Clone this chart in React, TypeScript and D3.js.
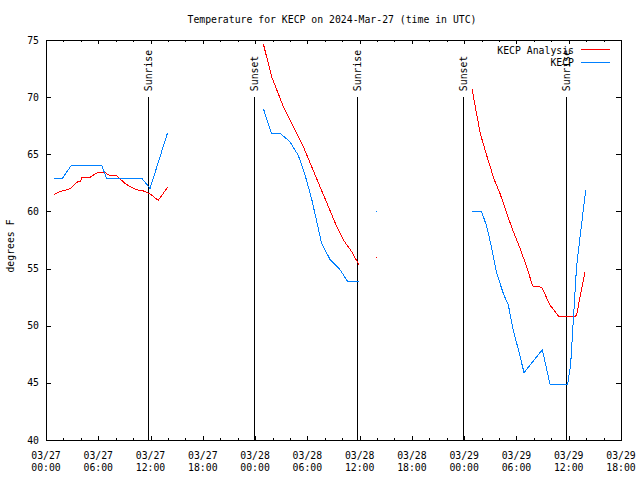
import React from "react";
import * as d3 from "d3";

const TITLE = "Temperature for KECP on 2024-Mar-27 (time in UTC)";
const Y_LABEL = "degrees F";

// hours since 03/27 00:00 UTC; null separates gaps
const obsHours: (number | null)[] = [
  0.92, 1.9, 2.87, 6.4, 6.96, 11.0, 11.75, 11.94, 13.96, null,
  24.95, 25.9, 26.93, 28.0, 28.96, 29.73, 30.49, 31.64, 32.6, 33.75, 34.6, 35.93, null,
  37.88, null,
  48.93, 50.0, 50.58, 51.16, 51.73, 52.5, 53.07, 53.64, 54.22, 54.87, 56.97, 57.85, 59.88, 60.22, 60.9, 61.95,
];
const obsValues: (number | null)[] = [
  62.9, 62.9, 64.0, 64.0, 62.9, 62.9, 62.2, 62.0, 66.9, null,
  69.0, 66.8, 66.8, 66.1, 64.9, 63.2, 61.1, 57.2, 55.8, 54.9, 53.9, 53.9, null,
  60.0, null,
  60.0, 60.0, 58.7, 56.8, 54.6, 52.8, 51.8, 49.6, 47.9, 45.9, 47.9, 44.9, 44.9, 46.6, 55.2, 61.9,
];

const anaHours: (number | null)[] = [
  0.92, 1.42, 1.99, 2.56, 2.95, 3.33, 3.71, 3.98, 4.09, 5.05, 5.43, 6.0, 6.77, 7.15, 8.11, 8.49, 9.07, 9.64, 10.41, 10.98, 11.56, 11.94, 12.89, 13.96, null,
  24.95, 25.9, 27.24, 28.39, 29.54, 30.49, 31.45, 32.41, 33.37, 34.13, 35.09, 35.93, null,
  37.88, null,
  48.9, 49.85, 50.7, 51.46, 52.11, 52.88, 53.64, 54.41, 55.17, 55.86, 56.9, 57.85, 58.88, 60.72, 60.9, 61.87,
];
const anaValues: (number | null)[] = [
  61.5, 61.67, 61.82, 61.93, 62.08, 62.4, 62.63, 62.66, 62.96, 62.99, 63.18, 63.42, 63.42, 63.19, 63.16, 62.84, 62.46, 62.17, 61.88, 61.85, 61.67, 61.53, 60.97, 62.11, null,
  74.65, 71.79, 69.17, 67.42, 65.67, 63.92, 62.17, 60.42, 58.67, 57.5, 56.48, 55.31, null,
  56.0, null,
  70.7, 66.8, 64.6, 62.75, 61.58, 59.83, 58.23, 56.77, 55.17, 53.48, 53.36, 51.81, 50.79, 50.79, 50.94, 54.73,
];

const eventHours = [11.74, 23.9, 35.73, 47.9, 59.72];
const eventLabels = ["Sunrise", "Sunset", "Sunrise", "Sunset", "Sunrise"];
const eventTop = 70;

const xTickHours = [0, 6, 12, 18, 24, 30, 36, 42, 48, 54, 60, 66];
const xTickDates = ["03/27", "03/27", "03/27", "03/27", "03/28", "03/28", "03/28", "03/28", "03/29", "03/29", "03/29", "03/29"];
const xTickTimes = ["00:00", "06:00", "12:00", "18:00", "00:00", "06:00", "12:00", "18:00", "00:00", "06:00", "12:00", "18:00"];
const yTicks = [40, 45, 50, 55, 60, 65, 70, 75];

const seriesNames = ["KECP Analysis", "KECP"];
const seriesColors = ["#ff0000", "#0080ff"];

const FONT = "'DejaVu Sans Mono', 'Liberation Mono', monospace";
const FS = 9.8;

function segments(hours: (number | null)[], values: (number | null)[]) {
  const segs: [number, number][][] = [];
  let cur: [number, number][] = [];
  hours.forEach((h, i) => {
    const v = values[i];
    if (h === null || v === null) {
      if (cur.length) segs.push(cur);
      cur = [];
    } else cur.push([h, v]);
  });
  if (cur.length) segs.push(cur);
  return segs;
}

export default function App() {
  const L = 46, R = 621, T = 40, B = 440;
  const x = d3.scaleLinear().domain([0, 66]).range([L, R]);
  const y = d3.scaleLinear().domain([40, 75]).range([B, T]);
  const line = d3.line<[number, number]>().x((d) => x(d[0])).y((d) => y(d[1]));
  const minorHours = d3.range(0, 67, 2).filter((h) => h % 6 !== 0);

  const series = [segments(anaHours, anaValues), segments(obsHours, obsValues)];

  return (
    <svg width={640} height={480} style={{ position: "absolute", left: 0, top: 0 }} fontFamily={FONT} fontSize={FS}>
      <rect x={0} y={0} width={640} height={480} fill="#fff" />
      <text x={332} y={23} textAnchor="middle">{TITLE}</text>
      <text transform={`translate(14,246) rotate(-90)`} textAnchor="middle">{Y_LABEL}</text>

      <g shapeRendering="crispEdges">
        {yTicks.map((v) => (
          <g key={"y" + v}>
            <line x1={L} x2={L + 5} y1={Math.round(y(v)) + 0.5} y2={Math.round(y(v)) + 0.5} stroke="#000" />
            <line x1={R - 5} x2={R} y1={Math.round(y(v)) + 0.5} y2={Math.round(y(v)) + 0.5} stroke="#000" />
          </g>
        ))}
        {xTickHours.map((h) => {
          const px = Math.round(x(h)) + 0.5;
          return (
            <g key={"x" + h}>
              <line x1={px} x2={px} y1={B} y2={B - 4} stroke="#000" />
              <line x1={px} x2={px} y1={T} y2={T + 4} stroke="#000" />
            </g>
          );
        })}
        {minorHours.map((h) => {
          const px = Math.round(x(h)) + 0.5;
          return (
            <g key={"m" + h}>
              <line x1={px} x2={px} y1={B} y2={B - 2} stroke="#000" />
              <line x1={px} x2={px} y1={T} y2={T + 2} stroke="#000" />
            </g>
          );
        })}
        {eventHours.map((h, i) => {
          const px = Math.round(x(h)) + 0.5;
          return <line key={"e" + i} x1={px} x2={px} y1={y(eventTop)} y2={B} stroke="#000" />;
        })}
      </g>

      {yTicks.map((v) => (
        <text key={"yt" + v} x={39} y={y(v) + 3.5} textAnchor="end">{v}</text>
      ))}
      {xTickHours.map((h, i) => (
        <g key={"xt" + h}>
          <text x={x(h)} y={459} textAnchor="middle">{xTickDates[i]}</text>
          <text x={x(h)} y={471} textAnchor="middle">{xTickTimes[i]}</text>
        </g>
      ))}
      {eventHours.map((h, i) => {
        const px = Math.round(x(h)) + 0.5;
        return (
          <text key={"el" + i} transform={`translate(${px + 3.5},${y(eventTop) - 6}) rotate(-90)`} textAnchor="start">{eventLabels[i]}</text>
        );
      })}

      {series.map((segs, si) => (
        <g key={"s" + si} shapeRendering="crispEdges">
          {segs.map((seg, j) =>
            seg.length > 1 ? (
              <path key={j} d={line(seg) || ""} fill="none" stroke={seriesColors[si]} strokeWidth={1} />
            ) : (
              <rect key={j} x={Math.round(x(seg[0][0]))} y={Math.round(y(seg[0][1]))} width={1} height={1} fill={seriesColors[si]} />
            )
          )}
        </g>
      ))}

      <rect x={L + 0.5} y={T + 0.5} width={R - L} height={B - T} fill="none" stroke="#000" shapeRendering="crispEdges" />

      {seriesNames.map((n, i) => (
        <g key={"l" + i}>
          <text x={574} y={54 + i * 12} textAnchor="end">{n}</text>
          <line x1={581} x2={610} y1={49.5 + i * 12.5} y2={49.5 + i * 12.5} stroke={seriesColors[i]} shapeRendering="crispEdges" />
        </g>
      ))}
    </svg>
  );
}
